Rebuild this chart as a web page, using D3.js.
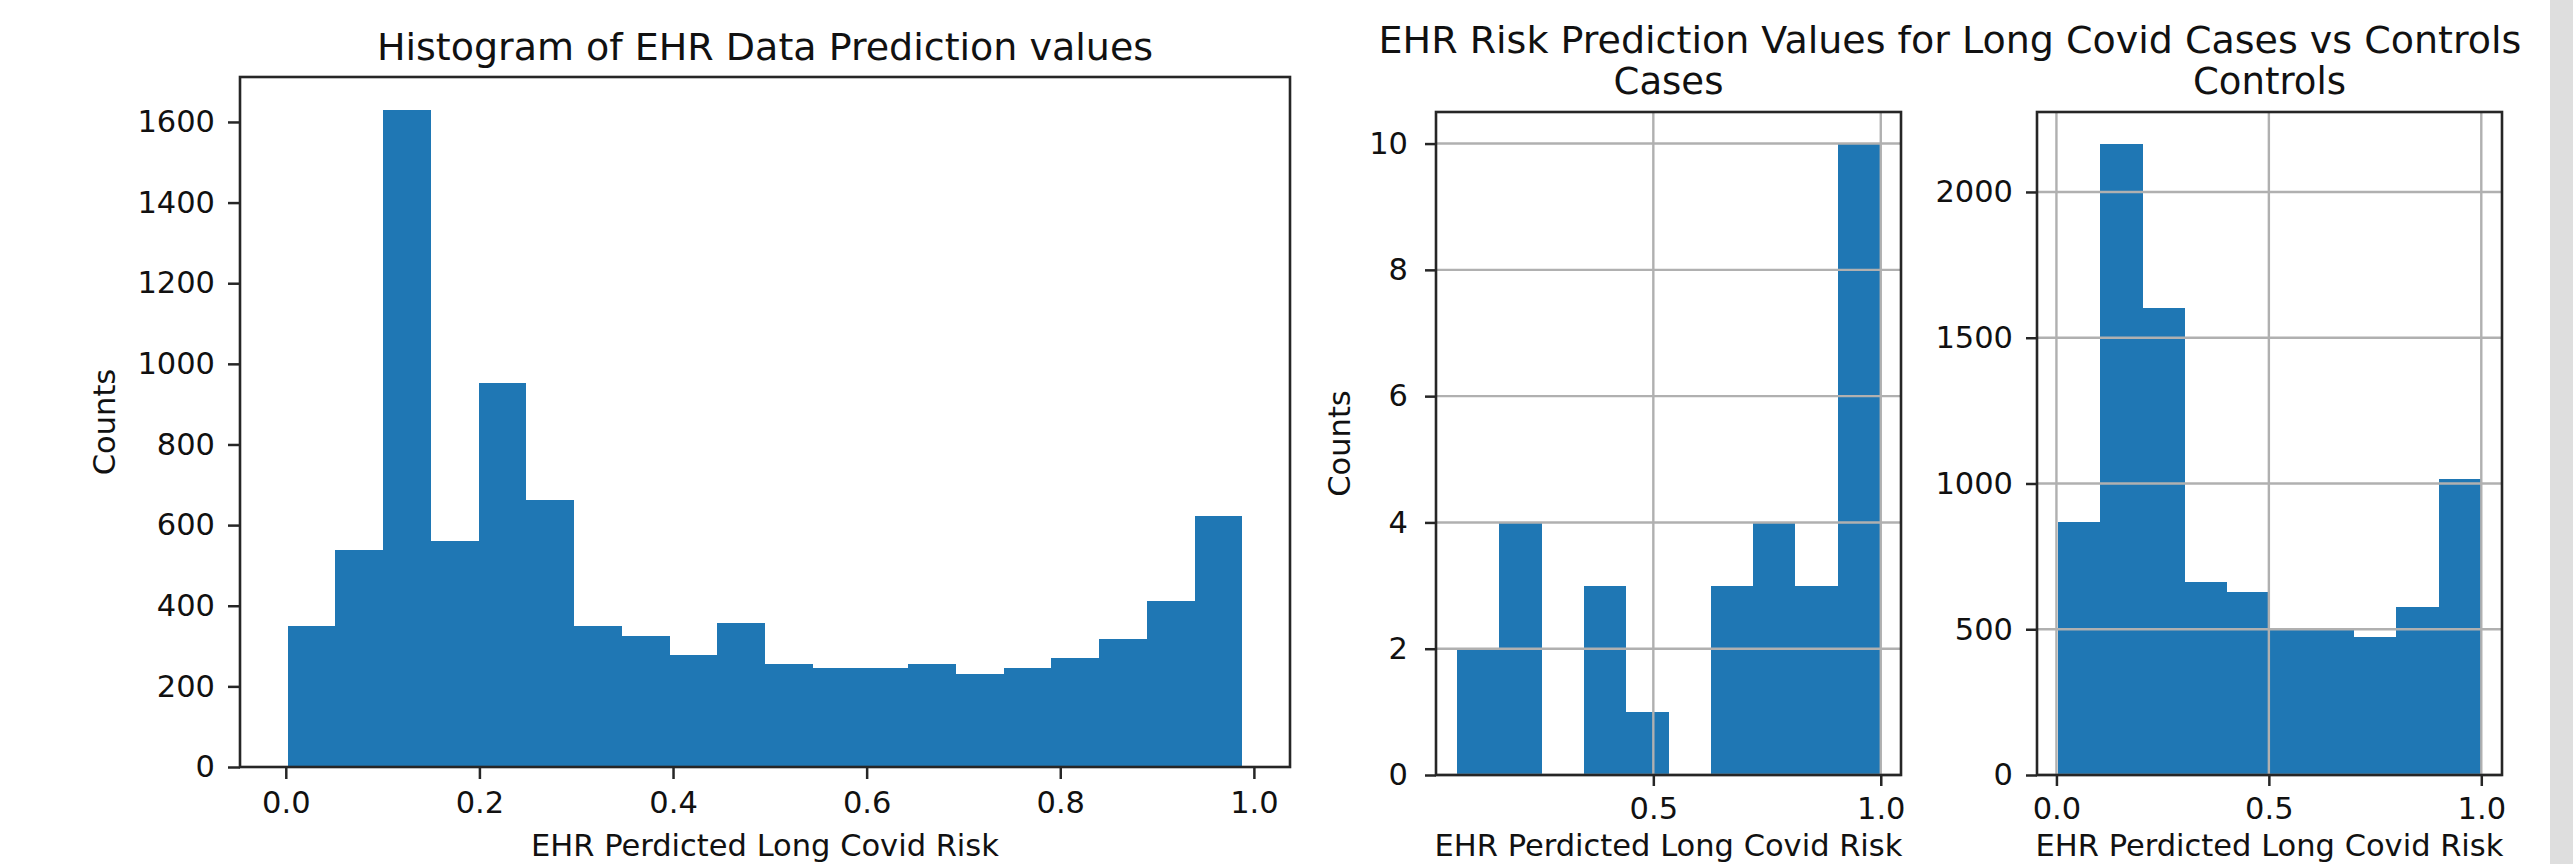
<!DOCTYPE html>
<html>
<head>
<meta charset="utf-8">
<script src="https://cdn.jsdelivr.net/npm/d3@7"></script>
<style>
  body { margin: 0; background: #fff; overflow: hidden; }
  svg { display: block; font-family: "DejaVu Sans", sans-serif; }
</style>
</head>
<body>
<svg id="chart"></svg>
<script>
// ---- data ----
// all predictions, 20 equal bins between min and max value
const allCounts = [350, 538, 1630, 560, 953, 662, 350, 325, 278, 357, 256, 246, 246, 256, 231, 246, 270, 318, 412, 622]
const allRange = [0.002, 0.988]
const allXTicks = [0.0, 0.2, 0.4, 0.6, 0.8, 1.0]
const allYTicks = [0, 200, 400, 600, 800, 1000, 1200, 1400, 1600]

// long covid cases, 10 bins
const casesCounts = [2, 4, 0, 3, 1, 0, 3, 4, 3, 10]
const casesRange = [0.0687, 0.998]
const casesXTicks = [0.5, 1.0]
const casesYTicks = [0, 2, 4, 6, 8, 10]

// controls, 10 bins
const controlsCounts = [868, 2166, 1603, 663, 628, 502, 500, 475, 577, 1016]
const controlsRange = [0.004, 0.999]
const controlsXTicks = [0.0, 0.5, 1.0]
const controlsYTicks = [0, 500, 1000, 1500, 2000]

const W = 2573, H = 864
const blue = '#1f77b4'
const ink = '#262626'
const fontSize = 30.5

const svg = d3.select('#chart').attr('width', W).attr('height', H)
svg.append('rect').attr('width', W).attr('height', H).attr('fill', '#fff')
// the grey strip on the right edge of the screenshot
svg.append('rect').attr('x', 2550).attr('y', 0).attr('width', W - 2550).attr('height', H).attr('fill', '#dedede')

function hist(box, counts, range, xTicks, yTicks, opts){
	const n = counts.length
	const [lo, hi] = range
	const pad = 0.05 * (hi - lo)
	const edges = d3.range(n + 1).map(i => lo + i * (hi - lo) / n)

	const x = d3.scaleLinear().domain([lo - pad, hi + pad]).range([box.left, box.right])
	const y = d3.scaleLinear().domain([0, 1.05 * d3.max(counts)]).range([box.bottom, box.top])

	const g = svg.append('g')

	g.append('g').selectAll('rect')
		.data(counts)
		.join('rect')
			.attr('x', (d, i) => x(edges[i]))
			.attr('width', (d, i) => x(edges[i + 1]) - x(edges[i]))
			.attr('y', d => y(d))
			.attr('height', d => y(0) - y(d))
			.attr('fill', blue)
			.attr('shape-rendering', 'crispEdges')

	// pandas hist puts the grid over the bars
	if(opts.grid){
		const grid = g.append('g').attr('stroke', '#b0b0b0').attr('stroke-width', 2.4)
		grid.selectAll('.gx').data(xTicks).join('line')
			.attr('x1', d => x(d)).attr('x2', d => x(d))
			.attr('y1', box.top).attr('y2', box.bottom)
		grid.selectAll('.gy').data(yTicks).join('line')
			.attr('x1', box.left).attr('x2', box.right)
			.attr('y1', d => y(d)).attr('y2', d => y(d))
	}

	const xAxis = g.append('g')
		.attr('transform', `translate(0,${box.bottom})`)
		.call(d3.axisBottom(x).tickValues(xTicks).tickFormat(d3.format('.1f'))
			.tickSize(opts.tick).tickPadding(opts.xPad).tickSizeOuter(0))
	const yAxis = g.append('g')
		.attr('transform', `translate(${box.left},0)`)
		.call(d3.axisLeft(y).tickValues(yTicks).tickFormat(d3.format('d'))
			.tickSize(opts.tick).tickPadding(opts.yPad).tickSizeOuter(0))

	for(const a of [xAxis, yAxis]){
		a.select('.domain').remove()
		a.selectAll('line').attr('stroke', ink).attr('stroke-width', 2.5)
		a.selectAll('text').attr('fill', '#111').style('font-size', fontSize + 'px')
			.style('font-family', '"DejaVu Sans", sans-serif')
	}

	// spines
	g.append('rect')
		.attr('x', box.left).attr('y', box.top)
		.attr('width', box.right - box.left).attr('height', box.bottom - box.top)
		.attr('fill', 'none').attr('stroke', ink).attr('stroke-width', 2.6)

	// x label sits right at the bottom edge, as in the screenshot
	g.append('text')
		.attr('x', (box.left + box.right) / 2).attr('y', 856)
		.attr('text-anchor', 'middle').attr('fill', '#111')
		.style('font-size', fontSize + 'px')
		.text('EHR Perdicted Long Covid Risk')

	if(opts.ylabel){
		g.append('text')
			.attr('transform', `translate(${opts.ylabelX},${(box.top + box.bottom) / 2}) rotate(-90)`)
			.attr('text-anchor', 'middle').attr('dy', '0.35em').attr('fill', '#111')
			.style('font-size', fontSize + 'px')
			.text(opts.ylabel)
	}
	if(opts.title){
		g.append('text')
			.attr('x', (box.left + box.right) / 2).attr('y', opts.titleY)
			.attr('text-anchor', 'middle').attr('fill', '#111')
			.style('font-size', opts.titleSize + 'px')
			.text(opts.title)
	}
}

hist({left: 240, right: 1290, top: 77, bottom: 767}, allCounts, allRange, allXTicks, allYTicks,
	{grid: false, tick: 12, xPad: 12, yPad: 13, ylabel: 'Counts', ylabelX: 104,
	 title: 'Histogram of EHR Data Prediction values', titleY: 60, titleSize: 38})

hist({left: 1436, right: 1901, top: 112, bottom: 775}, casesCounts, casesRange, casesXTicks, casesYTicks,
	{grid: true, tick: 11, xPad: 11, yPad: 17, ylabel: 'Counts', ylabelX: 1339,
	 title: 'Cases', titleY: 94, titleSize: 37})

hist({left: 2037, right: 2502, top: 112, bottom: 775}, controlsCounts, controlsRange, controlsXTicks, controlsYTicks,
	{grid: true, tick: 11, xPad: 11, yPad: 13,
	 title: 'Controls', titleY: 94, titleSize: 37})

// figure title over the two small panels
svg.append('text')
	.attr('x', 1950).attr('y', 53)
	.attr('text-anchor', 'middle').attr('fill', '#111')
	.style('font-size', '38px')
	.text('EHR Risk Prediction Values for Long Covid Cases vs Controls')
</script>
</body>
</html>
